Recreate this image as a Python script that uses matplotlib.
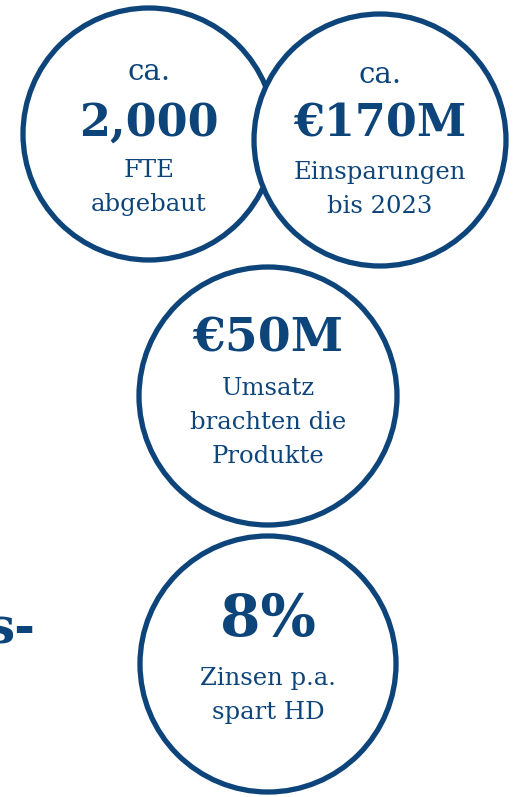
import matplotlib.pyplot as plt
from matplotlib.patches import Circle

# circle content, top to bottom
prefixes = ["ca.", "ca.", "", ""]
headlines = ["2,000", "€170M", "€50M", "8%"]
captions = [["FTE", "abgebaut"],
            ["Einsparungen", "bis 2023"],
            ["Umsatz", "brachten die", "Produkte"],
            ["Zinsen p.a.", "spart HD"]]

centers = [(149, 134), (380, 140), (268, 396), (268, 664)]
radii = [126, 126, 129, 128]
prefix_y = [72, 75, None, None]
headline_y = [123, 124, 338, 620]
headline_size = [32, 32, 34, 42]
caption_y = [170, 172, 388, 678]
line_step = 34

color = "#0d447a"
serif = ["DejaVu Serif"]

fig = plt.figure(figsize=(5.16, 7.97), dpi=100)
ax = fig.add_axes([0, 0, 1, 1])
ax.set_xlim(0, 516)
ax.set_ylim(797, 0)
ax.set_aspect("equal")
ax.axis("off")

for i in range(len(headlines)):
    x, y = centers[i]
    # white fill so the second circle covers the first where they overlap
    ax.add_patch(Circle((x, y), radii[i], facecolor="white", edgecolor=color,
                        linewidth=3.8, zorder=1 + i))
    z = 10
    if prefixes[i]:
        ax.text(x, prefix_y[i], prefixes[i], ha="center", va="center",
                fontsize=21, color=color, family=serif, zorder=z)
    ax.text(x, headline_y[i], headlines[i], ha="center", va="center",
            fontsize=headline_size[i], fontweight="bold", color=color,
            family=serif, zorder=z)
    for j, line in enumerate(captions[i]):
        ax.text(x, caption_y[i] + j * line_step, line, ha="center", va="center",
                fontsize=17.5, color=color, family=serif, zorder=z)

# cut-off word at the left edge, as in the source layout
ax.text(36, 630, "s-", ha="right", va="center", fontsize=36, fontweight="bold",
        color=color, family=serif)

fig.savefig("out.png", dpi=100)
